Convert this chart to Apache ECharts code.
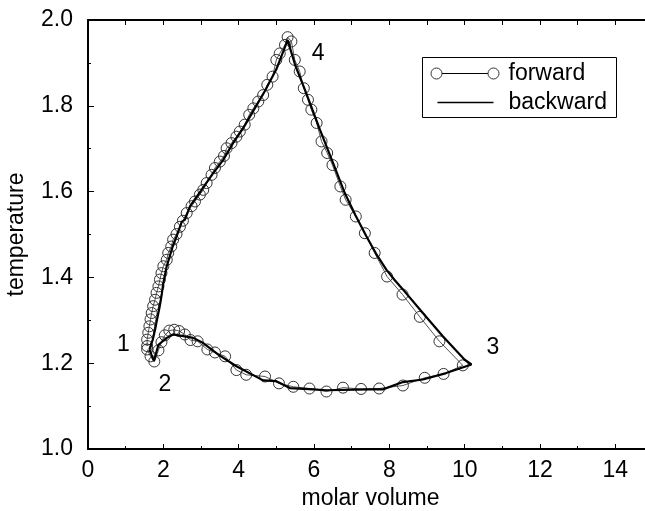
<!DOCTYPE html>
<html>
<head>
<meta charset="utf-8">
<script src="https://cdn.jsdelivr.net/npm/echarts@6/dist/echarts.min.js"></script>
<style>
html,body{margin:0;padding:0;background:#fff;}
#chart{width:645px;height:511px;}
</style>
</head>
<body>
<div id="chart"></div>
<script>
// forward sweep: circles joined by a thin line (molar volume, temperature)
var forwardData = [
[1.57,1.232],[1.66,1.216],[1.76,1.204],[1.87,1.230],[1.95,1.249],[2.04,1.265],[2.16,1.276],[2.29,1.278],[2.42,1.275],[2.57,1.267],[2.72,1.254],[2.91,1.251],[3.17,1.232],[3.37,1.225],[3.64,1.216],[3.94,1.184],[4.20,1.173],[4.70,1.169],[5.07,1.153],[5.45,1.145],[5.88,1.141],[6.33,1.134],[6.77,1.143],[7.25,1.140],[7.73,1.141],[8.36,1.148],[8.94,1.166],[9.44,1.175],[9.95,1.195],
[9.33,1.251],[8.81,1.308],[8.35,1.360],[7.94,1.402],[7.61,1.457],[7.35,1.503],[7.11,1.542],[6.84,1.581],[6.70,1.612],[6.49,1.662],[6.35,1.690],[6.20,1.717],[6.07,1.760],[5.93,1.791],[5.84,1.814],[5.73,1.841],[5.62,1.880],[5.49,1.907],[5.40,1.950],[5.30,1.960],
[5.23,1.942],[5.09,1.922],[5.00,1.907],[4.90,1.868],[4.76,1.849],[4.65,1.825],[4.52,1.810],[4.39,1.794],[4.28,1.779],[4.16,1.756],[4.03,1.740],[3.94,1.728],[3.81,1.713],[3.68,1.701],[3.61,1.683],[3.50,1.670],[3.37,1.655],[3.28,1.639],[3.15,1.620],[3.06,1.604],[2.97,1.593],[2.84,1.577],[2.75,1.566],[2.62,1.550],[2.52,1.532],[2.44,1.518],[2.35,1.501],[2.26,1.488],[2.21,1.472],[2.13,1.457],[2.09,1.441],[2.00,1.426],[1.95,1.410],[1.91,1.395],[1.87,1.379],[1.82,1.364],[1.78,1.348],[1.73,1.333],[1.69,1.317],[1.66,1.302],[1.63,1.286],[1.60,1.271],[1.57,1.255],[1.57,1.240]
];
// backward sweep: thick solid line
var backwardData = [
[1.63,1.232],[1.72,1.255],[1.78,1.278],[1.84,1.305],[1.91,1.335],[1.96,1.362],[2.00,1.387],[2.09,1.426],[2.17,1.449],[2.24,1.470],[2.35,1.495],[2.49,1.530],[2.57,1.534],[2.71,1.566],[3.00,1.602],[3.30,1.640],[3.59,1.674],[3.85,1.713],[4.12,1.748],[4.40,1.790],[4.70,1.835],[5.00,1.885],[5.30,1.953],
[5.50,1.895],[5.76,1.837],[6.16,1.744],[6.51,1.666],[6.82,1.596],[7.10,1.545],[7.39,1.496],[7.65,1.455],[7.92,1.418],[8.14,1.394],[8.36,1.372],[8.89,1.317],[9.42,1.263],[10.00,1.208],[10.18,1.197],
[9.51,1.177],[8.89,1.162],[8.36,1.156],[7.83,1.139],[7.48,1.139],[6.33,1.137],[5.98,1.139],[5.36,1.142],[5.00,1.158],[4.65,1.160],[3.94,1.193],[3.46,1.220],[3.06,1.247],[2.79,1.259],[2.53,1.263],[2.26,1.267],[2.09,1.259],[1.87,1.243],[1.75,1.205],[1.63,1.232]
];
// state-point annotations
var pointLabels = ['1','2','3','4'];
var pointCoords = [[0.94,1.243],[2.04,1.150],[10.75,1.236],[6.11,1.922]];
var legendNames = ['forward','backward'];

var FONT = '"Liberation Sans", Arial, Helvetica, sans-serif';
var chart = echarts.init(document.getElementById('chart'), null, {renderer:'canvas'});
var option = {
  backgroundColor:'#fff',
  animation:false,
  grid:{left:88, top:20, right:-8, bottom:62, containLabel:false, outerBoundsMode:'none'},
  xAxis:[{
    type:'value', min:0, max:15, interval:2, position:'bottom',
    name:'molar volume', nameLocation:'middle', nameGap:37,
    nameTextStyle:{fontFamily:FONT, fontSize:23, color:'#000'},
    axisLine:{show:true, onZero:false, lineStyle:{color:'#000', width:2}},
    axisTick:{show:true, inside:true, length:5, lineStyle:{color:'#000', width:1}},
    minorTick:{show:true, splitNumber:2, length:3, lineStyle:{color:'#000', width:1}},
    axisLabel:{fontFamily:FONT, fontSize:23, color:'#000', margin:10, showMaxLabel:false},
    splitLine:{show:false}
  },{
    type:'value', min:0, max:15, interval:1, position:'top',
    axisLine:{show:true, onZero:false, lineStyle:{color:'#000', width:2}},
    axisTick:{show:true, inside:true, length:5, lineStyle:{color:'#000', width:1}},
    axisLabel:{show:false},
    splitLine:{show:false}
  }],
  yAxis:{
    type:'value', min:1.0, max:2.0, interval:0.2,
    name:'temperature', nameLocation:'middle', nameGap:60, nameRotate:90,
    nameTextStyle:{fontFamily:FONT, fontSize:23, color:'#000'},
    axisLine:{show:true, onZero:false, lineStyle:{color:'#000', width:2}},
    axisTick:{show:true, inside:true, length:6, lineStyle:{color:'#000', width:1}},
    minorTick:{show:true, splitNumber:2, length:3, lineStyle:{color:'#000', width:1}},
    axisLabel:{fontFamily:FONT, fontSize:23, color:'#000', margin:15,
      formatter:function(v){return v.toFixed(1);}},
    splitLine:{show:false}
  },
  series:[{
    name:legendNames[0], type:'line', data:forwardData,
    symbol:'circle', symbolSize:11, showAllSymbol:true,
    lineStyle:{color:'#555', width:1},
    itemStyle:{color:'rgba(0,0,0,0)', borderColor:'#333', borderWidth:1},
    z:2
  },{
    name:legendNames[1], type:'line', data:backwardData,
    symbol:'none', lineStyle:{color:'#000', width:2.2}, z:3
  },{
    type:'custom', silent:true, z:4,
    data:pointCoords.map(function(c,i){return [c[0], c[1], i];}),
    renderItem:function(params, api){
      var p = api.coord([api.value(0), api.value(1)]);
      return {type:'text', x:p[0], y:p[1],
        style:{text:pointLabels[api.value(2)], font:'23px '+FONT, fill:'#000', align:'center', verticalAlign:'middle'}};
    }
  }],
  graphic:[{
    type:'group', left:422, top:57,
    children:[
      {type:'rect', shape:{x:0,y:0,width:194,height:60}, style:{fill:'#fff', stroke:'#000', lineWidth:1}},
      {type:'line', shape:{x1:14,y1:16,x2:71,y2:16}, style:{stroke:'#000', lineWidth:1.2}},
      {type:'circle', shape:{cx:14,cy:16,r:5.5}, style:{fill:'#fff', stroke:'#333', lineWidth:1}},
      {type:'circle', shape:{cx:71,cy:16,r:5.5}, style:{fill:'#fff', stroke:'#333', lineWidth:1}},
      {type:'text', x:86, y:16, style:{text:legendNames[0], font:'23px '+FONT, fill:'#000', verticalAlign:'middle'}},
      {type:'line', shape:{x1:15,y1:45,x2:71,y2:45}, style:{stroke:'#000', lineWidth:1.5}},
      {type:'text', x:86, y:45, style:{text:legendNames[1], font:'23px '+FONT, fill:'#000', verticalAlign:'middle'}}
    ]
  }]
};
chart.setOption(option);
</script>
</body>
</html>
